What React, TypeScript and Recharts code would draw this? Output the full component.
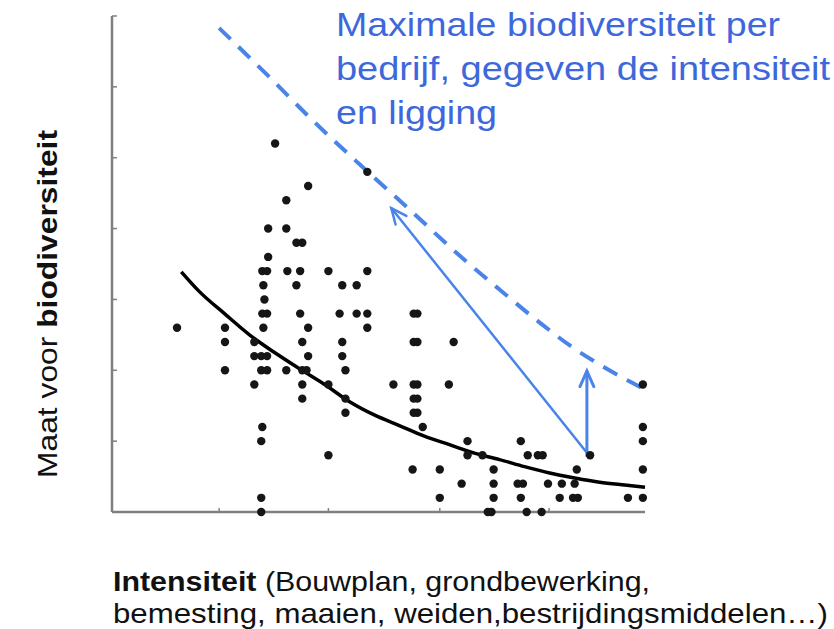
import React from 'react';
import {
  ComposedChart,
  XAxis,
  YAxis,
  Line,
  Scatter,
  ReferenceLine
} from 'recharts';

// farm observations: [intensity, biodiversity]
const farmDots: [number, number][] = [
  [3.06, 5.2], [4.79, 4.8], [3.68, 4.6], [3.27, 4.4],
  [2.93, 4.0], [3.27, 4.0], [3.46, 3.8], [3.57, 3.8], [2.93, 3.6],
  [2.82, 3.4], [2.91, 3.4], [3.29, 3.4], [3.53, 3.4], [4.06, 3.4], [4.79, 3.4],
  [2.84, 3.2], [3.46, 3.2], [4.32, 3.2], [4.59, 3.2], [2.86, 3.0],
  [2.82, 2.8], [2.91, 2.8], [3.53, 2.8], [4.27, 2.8], [4.59, 2.8], [4.79, 2.8], [5.66, 2.8], [5.73, 2.8],
  [1.22, 2.6], [2.12, 2.6], [2.84, 2.6], [3.68, 2.6], [4.79, 2.6],
  [2.12, 2.4], [2.67, 2.4], [3.57, 2.4], [4.32, 2.4], [5.66, 2.4], [5.73, 2.4], [6.41, 2.4],
  [2.67, 2.2], [2.8, 2.2], [2.91, 2.2], [3.68, 2.2], [4.32, 2.2],
  [2.12, 2.0], [2.8, 2.0], [2.91, 2.0], [3.27, 2.0], [3.57, 2.0], [3.65, 2.0], [4.38, 2.0],
  [2.67, 1.8], [3.57, 1.8], [4.06, 1.8], [5.28, 1.8], [5.66, 1.8], [5.73, 1.8], [6.32, 1.8], [9.96, 1.8],
  [3.57, 1.6], [4.38, 1.6], [5.66, 1.6], [5.73, 1.6],
  [4.38, 1.4], [5.66, 1.4], [5.73, 1.4],
  [2.82, 1.2], [5.83, 1.2], [9.96, 1.2],
  [2.8, 1.0], [6.67, 1.0], [7.67, 1.0], [9.96, 1.0],
  [4.06, 0.8], [6.67, 0.8], [6.95, 0.8], [7.8, 0.8], [7.99, 0.8], [8.08, 0.8], [8.97, 0.8],
  [5.64, 0.6], [6.15, 0.6], [7.16, 0.6], [8.72, 0.6], [9.96, 0.6],
  [6.56, 0.4], [7.16, 0.4], [7.61, 0.4], [7.71, 0.4], [8.18, 0.4], [8.44, 0.4], [8.68, 0.4],
  [2.8, 0.2], [6.15, 0.2], [7.16, 0.2], [7.67, 0.2], [8.4, 0.2], [8.65, 0.2], [8.74, 0.2], [9.68, 0.2], [9.96, 0.2],
  [2.8, 0], [7.05, 0], [7.12, 0], [7.78, 0], [8.06, 0]
];

// average trend (black)
const trendX = [1.3, 1.64, 2.11, 2.58, 3.05, 3.52, 3.99, 4.45, 4.92, 5.39, 5.86, 6.33, 6.8, 7.27, 7.74, 8.21, 8.68, 9.15, 9.62, 10];
const trendY = [3.39, 3.11, 2.8, 2.5, 2.25, 2.02, 1.8, 1.56, 1.37, 1.22, 1.07, 0.95, 0.83, 0.74, 0.64, 0.55, 0.48, 0.42, 0.38, 0.35];

// maximum biodiversity (blue dashed)
const maxX = [2.01, 2.95, 3.76, 4.64, 5.58, 6.52, 7.27, 8.03, 8.59, 9.15, 9.62, 10];
const maxY = [6.83, 6.14, 5.53, 4.91, 4.27, 3.62, 3.14, 2.67, 2.35, 2.08, 1.88, 1.73];

const xTicks = [2.01, 4.06, 6.15, 8.2];
const yTicks = [0, 1, 2, 3, 4, 5, 6, 7];

const titleLines = ['Maximale biodiversiteit per', 'bedrijf, gegeven de intensiteit', 'en ligging'];

const dots = farmDots.map(([x, y]) => ({ x, y }));
const trend = trendX.map((x, i) => ({ x, y: trendY[i] }));
const maxLine = maxX.map((x, i) => ({ x, y: maxY[i] }));

const BLUE = '#4a84e8';
const AXIS = '#808080';
const FONT = '"Liberation Sans", Arial, sans-serif';

const NoLabel = () => <g />;

const arrow = (w: number) => (props: any) => {
  const { x1, y1, x2, y2 } = props;
  const a = Math.atan2(y2 - y1, x2 - x1);
  const len = 17;
  const s = 0.42;
  const p1 = `${x2 - len * Math.cos(a - s)},${y2 - len * Math.sin(a - s)}`;
  const p2 = `${x2 - len * Math.cos(a + s)},${y2 - len * Math.sin(a + s)}`;
  return (
    <g>
      <line x1={x1} y1={y1} x2={x2} y2={y2} stroke={BLUE} strokeWidth={w} />
      <polyline points={`${p1} ${x2},${y2} ${p2}`} fill="none" stroke={BLUE} strokeWidth={w} strokeLinecap="round" />
    </g>
  );
};

export default function App() {
  return (
    <div style={{ position: 'absolute', left: 0, top: 0, width: 834, height: 629, background: '#fff' }}>
      <ComposedChart
        width={834}
        height={629}
        margin={{ top: 16, right: 189, bottom: 117, left: 112 }}
      >
        <XAxis
          type="number"
          dataKey="x"
          domain={[0, 10]}
          ticks={xTicks}
          height={1}
          mirror
          tick={NoLabel}
          tickSize={4}
          axisLine={{ stroke: AXIS, strokeWidth: 2.5 }}
          tickLine={{ stroke: AXIS, strokeWidth: 1.5 }}
        />
        <YAxis
          type="number"
          dataKey="y"
          domain={[0, 7]}
          ticks={yTicks}
          width={1}
          mirror
          tick={NoLabel}
          tickSize={5}
          axisLine={{ stroke: AXIS, strokeWidth: 2.5 }}
          tickLine={{ stroke: AXIS, strokeWidth: 1.5 }}
        />
        <Scatter
          data={dots}
          dataKey="y"
          isAnimationActive={false}
          shape={(p: any) => <circle cx={p.cx} cy={p.cy} r={4.2} fill="#161616" />}
        />
        <Line
          data={trend}
          dataKey="y"
          type="monotone"
          stroke="#000"
          strokeWidth={3.5}
          dot={false}
          activeDot={false}
          isAnimationActive={false}
        />
        <Line
          data={maxLine}
          dataKey="y"
          type="monotone"
          stroke={BLUE}
          strokeWidth={4}
          strokeDasharray="16 11"
          dot={false}
          activeDot={false}
          isAnimationActive={false}
        />
        <ReferenceLine
          segment={[{ x: 8.97, y: 0.78 }, { x: 5.24, y: 4.29 }]}
          shape={arrow(2.5)}
        />
        <ReferenceLine
          segment={[{ x: 8.91, y: 0.78 }, { x: 8.91, y: 1.99 }]}
          shape={arrow(3)}
        />
      </ComposedChart>
      <svg
        width={834}
        height={629}
        style={{ position: 'absolute', left: 0, top: 0, pointerEvents: 'none' }}
        fontFamily={FONT}
      >
        {titleLines.map((t, i) => (
          <text key={t} x={336} y={36 + i * 44} fontSize={34} fill="#3d68dc"
            textLength={[444, 494, 161][i]} lengthAdjust="spacingAndGlyphs">
            {t}
          </text>
        ))}
        <text transform="translate(57,304) rotate(-90)" textAnchor="middle" fontSize={28} fill="#111"
          textLength={348} lengthAdjust="spacingAndGlyphs">
          Maat voor <tspan fontWeight="bold">biodiversiteit</tspan>
        </text>
        <text x={113} y={591} fontSize={28} fill="#111" textLength={537} lengthAdjust="spacingAndGlyphs">
          <tspan fontWeight="bold">Intensiteit</tspan> (Bouwplan, grondbewerking,
        </text>
        <text x={113} y={623} fontSize={28} fill="#111" textLength={715} lengthAdjust="spacingAndGlyphs">
          bemesting, maaien, weiden,bestrijdingsmiddelen…)
        </text>
      </svg>
    </div>
  );
}
